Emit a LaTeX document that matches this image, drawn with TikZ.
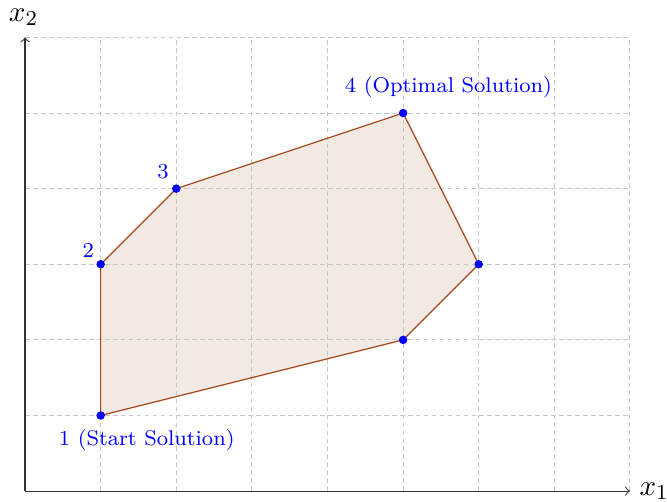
\documentclass[tikz,border=0pt]{standalone}
\definecolor{edgebrown}{RGB}{165,70,25}
\definecolor{regionfill}{RGB}{243,233,227}
\begin{document}
\begin{tikzpicture}[
  gridline/.style={dash pattern=on 1.8pt off 1.2pt,gray!45,line width=0.35pt},
  vertex/.style={circle,fill=blue,inner sep=0pt,minimum size=3.2pt},
  ptlabel/.style={text=blue,font=\footnotesize,inner sep=0pt},
  axislabel/.style={font=\fontsize{10.95}{13}\selectfont,inner sep=1pt}
]
\useasboundingbox (-0.331,-0.132) rectangle (8.49,6.495);
\coordinate (c1) at (1,1);
\coordinate (c2) at (1,3);
\coordinate (c3) at (2,4);
\coordinate (c4) at (5,5);
\coordinate (c5) at (6,3);
\coordinate (c6) at (5,2);
\fill[regionfill] (c1) -- (c2) -- (c3) -- (c4) -- (c5) -- (c6) -- cycle;
\draw[gridline] (0,0) grid (8,6);
\coordinate (O) at (0,0);
\coordinate (X) at (8,0);
\coordinate (Y) at (0,6);
\draw[->,black!80,line width=0.4pt] (O) -- (X);
\draw[->,black!80,line width=0.4pt] (O) -- (Y);
\node[axislabel] (xl) at (8.32,0) {$x_1$};
\node[axislabel] (yl) at (-0.02,6.27) {$x_2$};
\draw[edgebrown,line width=0.45pt] (c1) -- (c2) -- (c3) -- (c4) -- (c5) -- (c6) -- cycle;
\foreach \i in {1,...,6} { \node[vertex] (p\i) at (c\i) {}; }
\node[ptlabel] (l1) at (1.61,0.675) {1 (Start Solution)};
\node[ptlabel] (l2) at (0.835,3.18) {2};
\node[ptlabel] (l3) at (1.825,4.22) {3};
\node[ptlabel] (l4) at (5.6,5.34) {4 (Optimal Solution)};
\end{tikzpicture}
\end{document}
